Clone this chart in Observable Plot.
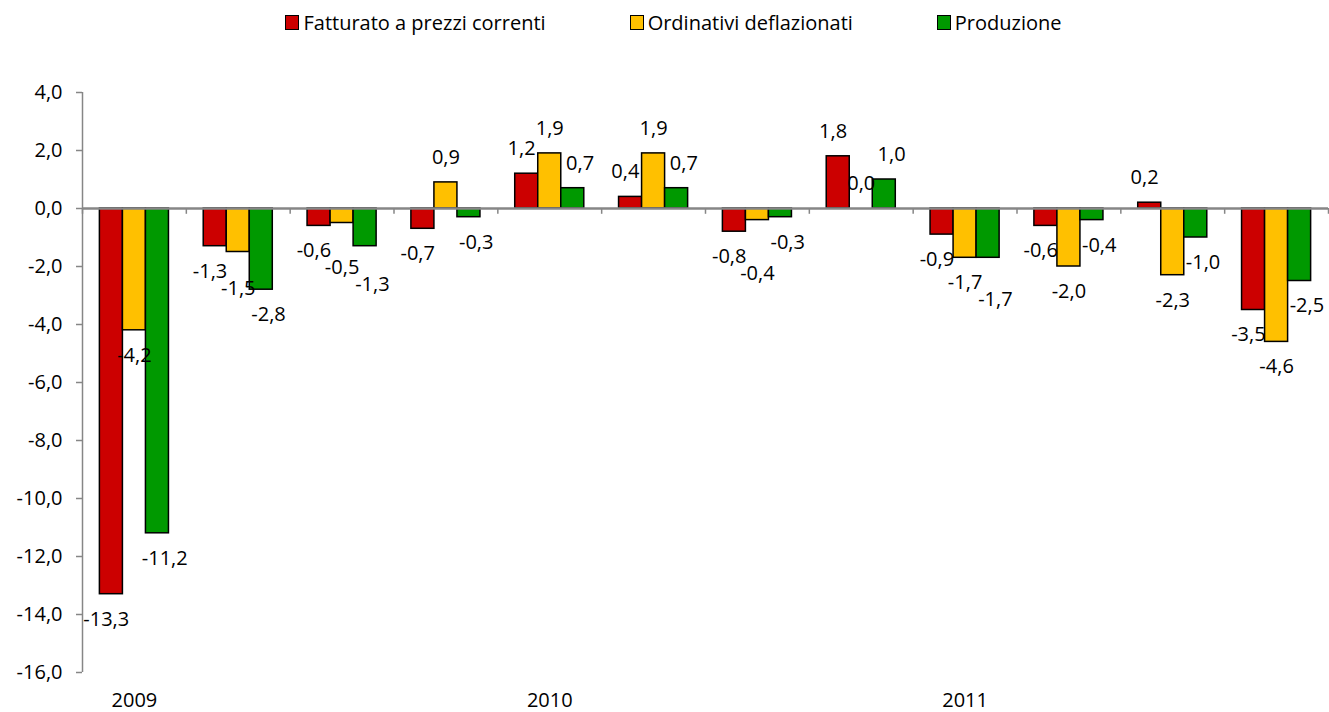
<!DOCTYPE html>
<html><head><meta charset="utf-8">
<script src="https://cdn.jsdelivr.net/npm/d3@7"></script>
<script src="https://cdn.jsdelivr.net/npm/@observablehq/plot@0.6"></script>
<style>
body{margin:0;background:#fff;font-family:"Open Sans",sans-serif;}
#legend{height:45px;display:flex;justify-content:center;align-items:center;gap:84px;font-size:20px;color:#000;padding-left:18px;}
#legend .item{display:flex;align-items:center;}
#legend .sw{width:12px;height:13px;border:1.5px solid #000;display:inline-block;margin-right:4px;}
</style></head><body>
<div id="legend"></div><div id="chart"></div>
<script>
const quarters = ["2009 T1","2009 T2","2009 T3","2009 T4","2010 T1","2010 T2","2010 T3","2010 T4","2011 T1","2011 T2","2011 T3","2011 T4"];
const yearLabels = ["2009","","","","2010","","","","2011","","",""];
const series = ["Fatturato a prezzi correnti","Ordinativi deflazionati","Produzione"];
const colors = ["#CC0000","#FFC000","#009900"];
const fatturato = [-13.3,-1.3,-0.6,-0.7,1.2,0.4,-0.8,1.8,-0.9,-0.6,0.2,-3.5];
const ordinativi = [-4.2,-1.5,-0.5,0.9,1.9,1.9,-0.4,0.0,-1.7,-2.0,-2.3,-4.6];
const produzione = [-11.2,-2.8,-1.3,-0.3,0.7,0.7,-0.3,1.0,-1.7,-0.4,-1.0,-2.5];
const yTicks = [-16,-14,-12,-10,-8,-6,-4,-2,0,2,4];

const values = [fatturato, ordinativi, produzione];
const pad = 0.1675, bw = 0.2217;
const pxPerUnit = 29;           // approx px per y unit (580px / 20 units)
const off = 25 / pxPerUnit;      // label offset from bar end
const minGap = 17 / pxPerUnit;   // min vertical gap between adjacent labels
const labelShift = [-0.05, 0, 0.07]; // small horizontal nudge per series (x units)
const rows = [];
quarters.forEach((q, gi) => {
  let prev = null;
  series.forEach((s, si) => {
    const v = values[si][gi];
    const x1 = gi + pad + si * bw;
    const sign = v >= 0 ? 1 : -1;
    let ly = v + sign * off;
    if (prev && prev.sign === sign && Math.abs(ly - prev.ly) < minGap) {
      ly = prev.ly + sign * minGap;
    }
    const r = {q, gi, s, si, value: v, x1, x2: x1 + bw, lx: x1 + bw / 2 + labelShift[si], ly, sign};
    rows.push(r);
    prev = r;
  });
});
const fmt = v => v.toFixed(1).replace(".", ",");

const legend = document.getElementById("legend");
series.forEach((s, i) => {
  const it = document.createElement("div"); it.className = "item";
  const sw = document.createElement("span"); sw.className = "sw"; sw.style.background = colors[i];
  const t = document.createElement("span"); t.textContent = s;
  it.append(sw, t); legend.append(it);
});

const years = quarters.map((q, gi) => ({gi, label: yearLabels[gi]})).filter(d => d.label);

const chart = Plot.plot({
  width: 1329, height: 667,
  marginLeft: 82, marginRight: 1, marginTop: 47, marginBottom: 40,
  style: {fontFamily: "Open Sans", fontSize: "20px", color: "#000", background: "#fff"},
  x: {domain: [0, 12], axis: null},
  y: {domain: [-16, 4], axis: null},
  color: {domain: series, range: colors},
  marks: [
    Plot.rect(rows, {x1: "x1", x2: "x2", y1: 0, y2: "value", fill: "s", stroke: "#000", strokeWidth: 1.5}),
    Plot.ruleX([0], {y1: -16, y2: 4, stroke: "#868686", strokeWidth: 1.5}),
    Plot.axisY({ticks: yTicks, tickFormat: fmt, tickSize: 6, tickPadding: 14, stroke: "#868686", strokeWidth: 1.5, fill: "#000", fontSize: 20, label: null}),
    Plot.ruleY([0], {stroke: "#868686", strokeWidth: 2.5}),
    Plot.ruleX(d3.range(13), {y1: 0, y2: -0.2, stroke: "#868686", strokeWidth: 1.5}),
    Plot.text(rows, {x: "lx", y: "ly", text: d => fmt(d.value), fill: "#000", fontSize: 20}),
    Plot.text(years, {x: d => d.gi + 0.5, y: -16, text: "label", dy: 28, fill: "#000", fontSize: 20})
  ]
});
document.getElementById("chart").append(chart);
</script>
</body></html>
